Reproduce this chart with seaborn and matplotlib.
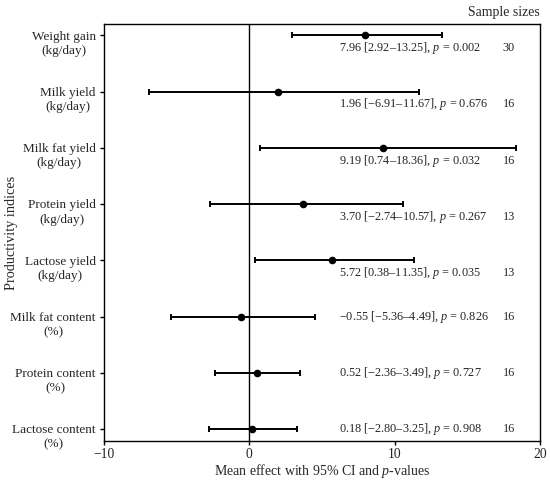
import matplotlib
matplotlib.use("Agg")
import matplotlib.pyplot as plt
import matplotlib.transforms as mtrans
import seaborn as sns
import pandas as pd
import numpy as np

labels = ["Weight gain\n(kg/day)", "Milk yield\n(kg/day)", "Milk fat yield\n(kg/day)",
          "Protein yield\n(kg/day)", "Lactose yield\n(kg/day)", "Milk fat content\n(%)",
          "Protein content\n(%)", "Lactose content\n(%)"]
means = [7.96, 1.96, 9.19, 3.70, 5.72, -0.55, 0.52, 0.18]
lower = [2.92, -6.91, 0.74, -2.74, 0.38, -5.36, -2.36, -2.80]
upper = [13.25, 11.67, 18.36, 10.57, 11.35, 4.49, 3.49, 3.25]
pvals = ["0.002", "0.676", "0.032", "0.267", "0.035", "0.826", "0.727", "0.908"]
sizes = [30, 16, 16, 13, 13, 16, 16, 16]

sns.set_theme(style="ticks")
plt.rcParams['font.family'] = ['Liberation Serif', 'DejaVu Serif']
plt.rcParams['mathtext.fontset'] = 'custom'
plt.rcParams['mathtext.rm'] = 'Liberation Serif'
plt.rcParams['mathtext.it'] = 'Liberation Serif:italic'

df = pd.DataFrame({"label": labels, "mean": means, "lo": lower, "hi": upper,
                   "p": pvals, "n": sizes})
df["y"] = np.arange(len(df))

fig = plt.figure(figsize=(5.5, 4.82), dpi=100)
ax = fig.add_axes([104/550, 1 - 441/482, (540-104)/550, (441-24)/482])

ax.errorbar(df["mean"], df["y"], xerr=[df["mean"] - df["lo"], df["hi"] - df["mean"]],
            fmt="none", ecolor="black", elinewidth=1.4, capsize=2.0, capthick=1.4, zorder=2)
sns.scatterplot(data=df, x="mean", y="y", color="black", s=30, edgecolor="black",
                linewidth=0, ax=ax, zorder=3)
ax.axvline(0, color="black", lw=1, zorder=1)

def fmt(v):
    s = f"{v:.2f}"
    return s.replace("-", "\u2212")

text_x = 6.2
for _, r in df.iterrows():
    txt = f"{fmt(r['mean'])} [{fmt(r['lo'])}\u2013{fmt(r['hi'])}], $\\it{{p}}$ = {r['p']}"
    dy = 0.23 if r["hi"] > text_x else 0.0
    ax.text(text_x, r["y"] + dy, txt, ha="left", va="center", fontsize=8.8)
    ax.text(17.85, r["y"] + dy, str(r["n"]), ha="center", va="center", fontsize=8.8)

ax.set_xlim(-10, 20)
ax.set_ylim(7.21, -0.2)
ax.set_xticks([-10, 0, 10, 20])
ax.set_xticklabels(["\u221210", "0", "10", "20"], fontsize=9.8)
ax.set_yticks(df["y"])
ax.set_yticklabels([])

# two-line category labels: first line centred on the tick
blend = mtrans.blended_transform_factory(ax.transAxes, ax.transData)
off = mtrans.ScaledTranslation(-6/72, 3.4/72, fig.dpi_scale_trans)
for _, r in df.iterrows():
    ax.text(0, r["y"], r["label"], transform=blend + off, ha="right", va="top",
            multialignment="center", fontsize=9.5, linespacing=1.25)

ax.tick_params(axis="both", length=3, width=1, color="black", pad=2)
for sp in ax.spines.values():
    sp.set_visible(True)
    sp.set_linewidth(1)
    sp.set_color("black")

ax.set_xlabel("Mean effect with 95% CI and $\\it{p}$-values", fontsize=10, labelpad=1)
ax.set_ylabel("Productivity indices", fontsize=10.3)
ax.yaxis.set_label_coords(-0.197, 0.5)
ax.set_title("Sample sizes", loc="right", fontsize=9.9, pad=6)

fig.savefig("out.png", dpi=100)
